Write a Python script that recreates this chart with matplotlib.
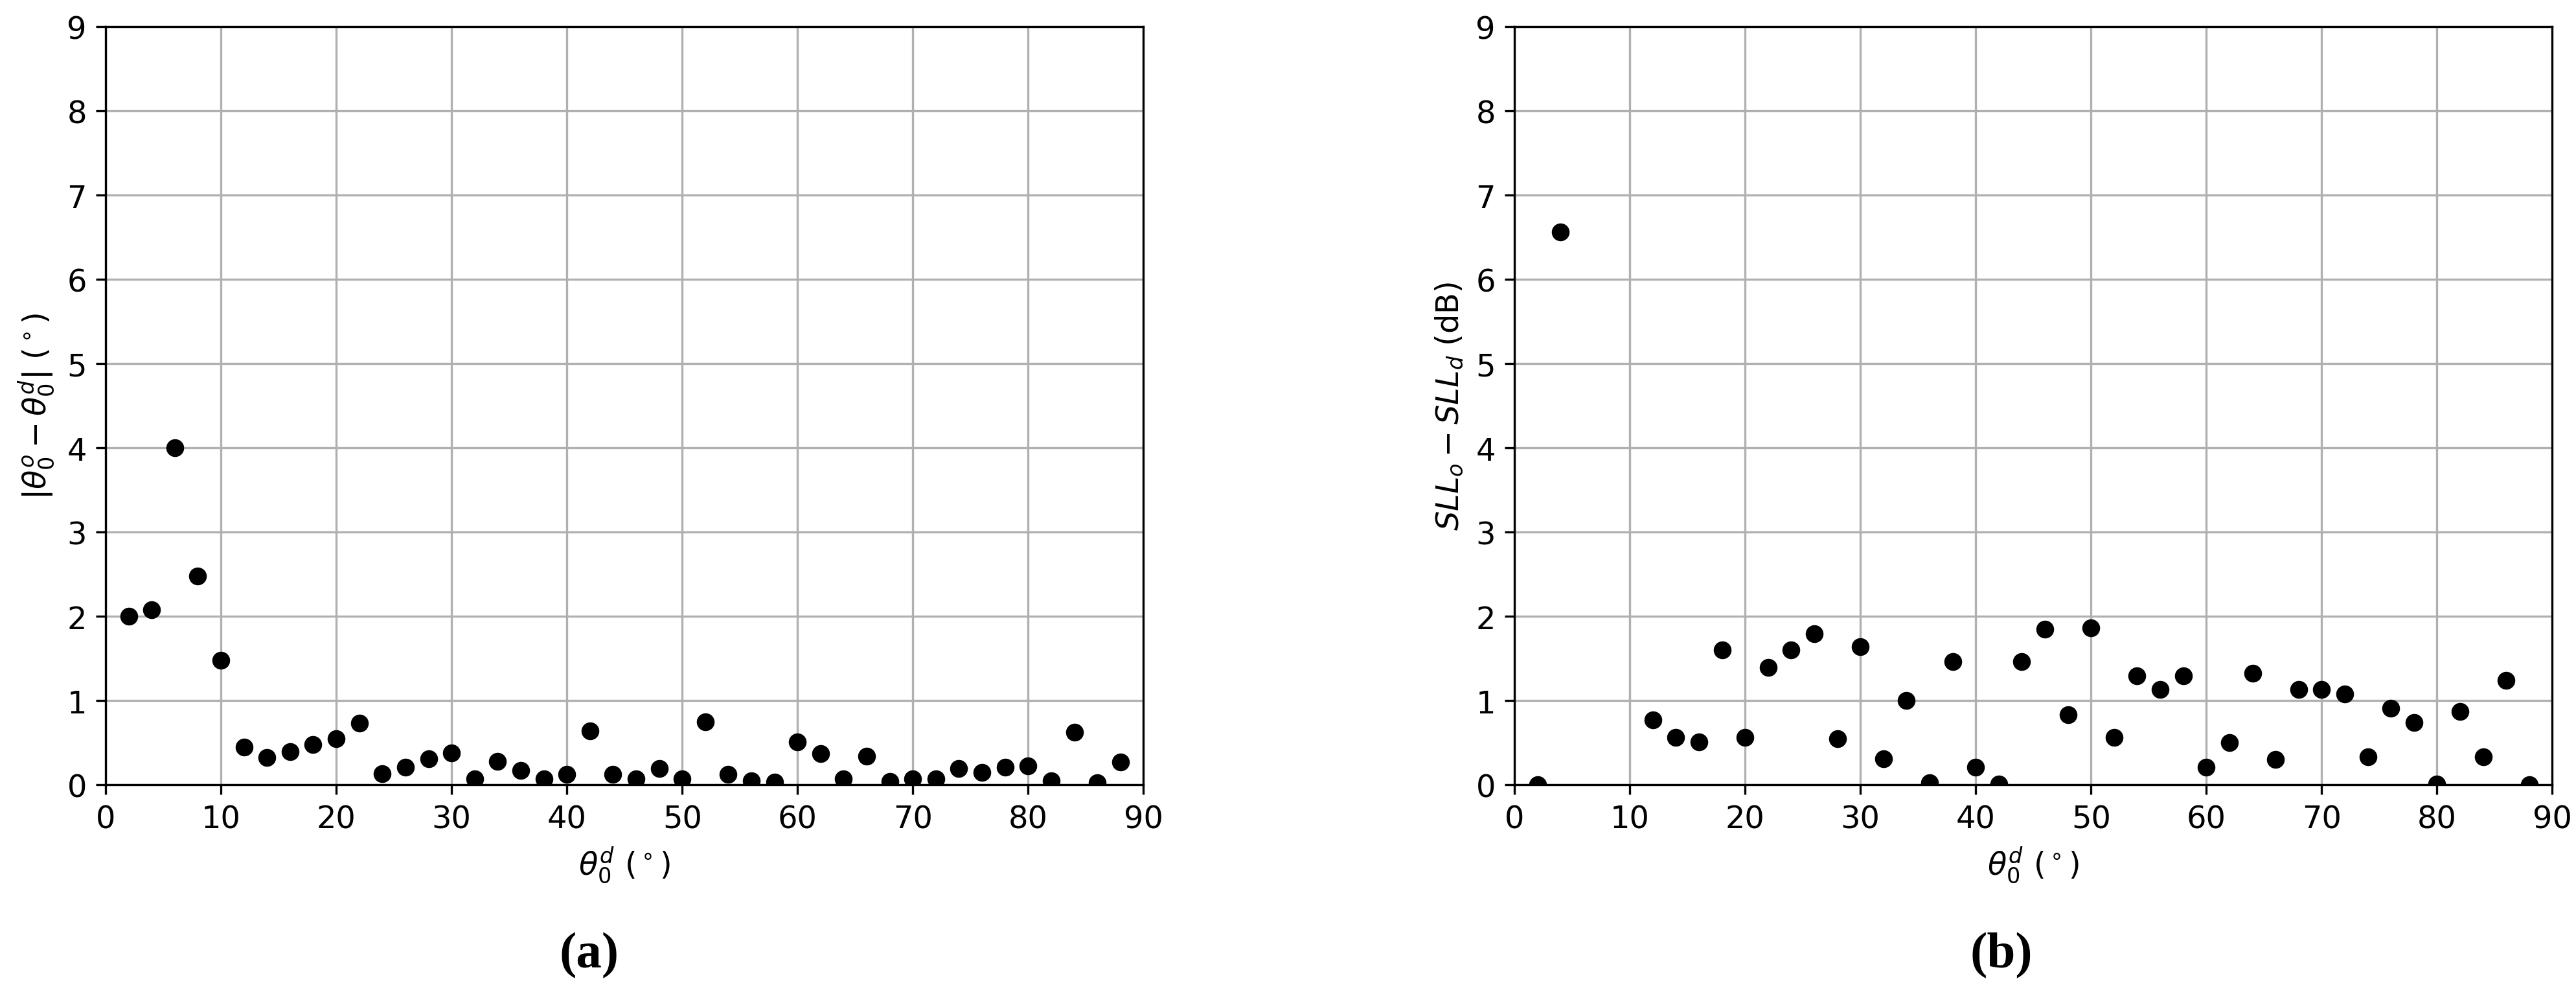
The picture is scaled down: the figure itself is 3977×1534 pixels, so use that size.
import matplotlib
matplotlib.use("Agg")
import matplotlib.pyplot as plt

# steering angle theta_0^d (deg)
theta_a = [2, 4, 6, 8, 10, 12, 14, 16, 18, 20, 22, 24, 26, 28, 30, 32, 34, 36, 38, 40,
           42, 44, 46, 48, 50, 52, 54, 56, 58, 60, 62, 64, 66, 68, 70, 72, 74, 76, 78, 80,
           82, 84, 86, 88]
# |theta_0^o - theta_0^d| (deg)
err_a = [2.00, 2.08, 4.00, 2.48, 1.48, 0.45, 0.32, 0.39, 0.48, 0.55, 0.73, 0.13, 0.21, 0.31,
         0.38, 0.07, 0.28, 0.17, 0.07, 0.12, 0.64, 0.12, 0.07, 0.19, 0.07, 0.75, 0.12, 0.05,
         0.03, 0.51, 0.37, 0.07, 0.34, 0.04, 0.07, 0.07, 0.19, 0.15, 0.21, 0.22, 0.05, 0.62,
         0.02, 0.27]

theta_b = [2, 4, 12, 14, 16, 18, 20, 22, 24, 26, 28, 30, 32, 34, 36, 38, 40, 42, 44, 46,
           48, 50, 52, 54, 56, 58, 60, 62, 64, 66, 68, 70, 72, 74, 76, 78, 80, 82, 84, 86, 88]
# SLL_o - SLL_d (dB)
sll_b = [0.00, 6.56, 0.77, 0.56, 0.51, 1.60, 0.56, 1.39, 1.60, 1.79, 0.55, 1.64, 0.31, 1.00,
         0.02, 1.46, 0.21, 0.01, 1.46, 1.85, 0.83, 1.86, 0.56, 1.29, 1.13, 1.29, 0.21, 0.50,
         1.32, 0.30, 1.13, 1.13, 1.08, 0.33, 0.91, 0.74, 0.01, 0.87, 0.33, 1.24, 0.00]

W, H, dpi = 3977, 1535, 300
fig = plt.figure(figsize=(W / dpi, H / dpi), dpi=dpi)

fs = 11.5
panels = [
    (0.04099, theta_a, err_a, r'$|\theta_0^o - \theta_0^d|\ (^\circ)$', '(a)', 0.2288),
    (0.5879, theta_b, sll_b, r'$SLL_o - SLL_d$ (dB)', '(b)', 0.777),
]

for left, xs, ys, ylab, tag, tx in panels:
    ax = fig.add_axes([left, 0.21042, 0.4029, 0.7622])
    ax.plot(xs, ys, 'o', color='black', markersize=5.6)
    ax.set_xlim(0, 90)
    ax.set_ylim(0, 9)
    ax.set_xticks(range(0, 91, 10))
    ax.set_yticks(range(0, 10))
    ax.grid(True, color='#b0b0b0', linewidth=0.8)
    ax.tick_params(labelsize=fs)
    ax.set_xlabel(r'$\theta_0^d\ (^\circ)$', fontsize=fs)
    ax.set_ylabel(ylab, fontsize=fs)
    fig.text(tx, 0.039, tag, ha='center', va='center', fontsize=19,
             fontweight='bold', family='Liberation Serif')

fig.savefig('out.png', dpi=dpi)
